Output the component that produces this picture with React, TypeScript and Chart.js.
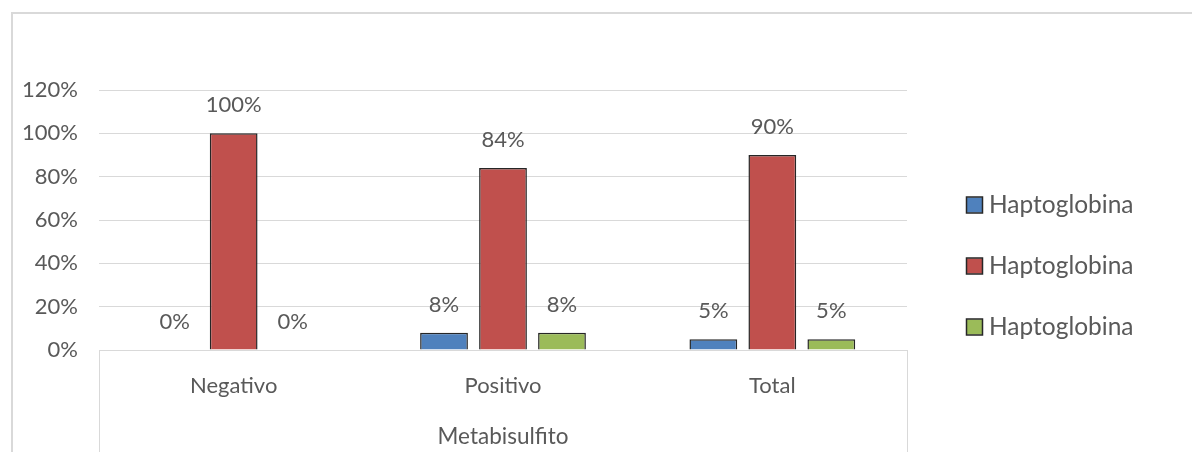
import { useEffect, useRef } from "react";
import { Chart, registerables } from "chart.js";

Chart.register(...registerables);

// Chart data
const categories = ["Negativo", "Positivo", "Total"];
const seriesNames = ["Haptoglobina", "Haptoglobina", "Haptoglobina"];
const blueValues = [0, 8, 5];
const redValues = [100, 84, 90];
const greenValues = [0, 8, 5];
const yTickValues = [0, 20, 40, 60, 80, 100, 120];
const axisTitle = "Metabisulfito";

const seriesColors = ["#4F81BD", "#C0504D", "#9BBB59"];
const FONT = "Lato, 'Open Sans', sans-serif";
const TEXT = "#595959";
const GRID = "#D9D9D9";
const OUTLINE = "#262626";

// Percent labels above each bar
const valueLabels = {
  id: "valueLabels",
  afterDatasetsDraw(chart: any) {
    const ctx = chart.ctx;
    ctx.save();
    ctx.font = `22px ${FONT}`;
    ctx.fillStyle = TEXT;
    ctx.textAlign = "center";
    ctx.textBaseline = "middle";
    chart.data.datasets.forEach((ds: any, di: number) => {
      const meta = chart.getDatasetMeta(di);
      meta.data.forEach((el: any, i: number) => {
        ctx.fillText(`${ds.data[i]}%`, el.x, el.y - 28);
      });
    });
    ctx.restore();
  },
};

// Frame lines of the category axis band below the plot
const axisFrame = {
  id: "axisFrame",
  afterDraw(chart: any) {
    const { ctx, chartArea } = chart;
    ctx.save();
    ctx.strokeStyle = GRID;
    ctx.lineWidth = 1;
    [chartArea.left, chartArea.right].forEach((x: number) => {
      const px = Math.round(x) + 0.5;
      ctx.beginPath();
      ctx.moveTo(px, chartArea.bottom);
      ctx.lineTo(px, chart.height);
      ctx.stroke();
    });
    ctx.restore();
  },
};

// Legend on the right side, one row per dataset
const sideLegend = {
  id: "sideLegend",
  afterDraw(chart: any) {
    const ctx = chart.ctx;
    ctx.save();
    ctx.font = `24.5px ${FONT}`;
    ctx.textBaseline = "middle";
    ctx.textAlign = "left";
    chart.data.datasets.forEach((ds: any, i: number) => {
      const cy = 205 + i * 61;
      ctx.fillStyle = ds.backgroundColor;
      ctx.fillRect(967, cy - 7.5, 15, 15);
      ctx.strokeStyle = OUTLINE;
      ctx.lineWidth = 1.5;
      ctx.strokeRect(966.5, cy - 8, 16, 16);
      ctx.fillStyle = TEXT;
      ctx.fillText(ds.label, 989, cy);
    });
    ctx.restore();
  },
};

export default function App() {
  const canvasRef = useRef<HTMLCanvasElement | null>(null);

  useEffect(() => {
    const canvas = canvasRef.current;
    if (!canvas) return;
    const values = [blueValues, redValues, greenValues];
    const chart = new Chart(canvas, {
      type: "bar",
      data: {
        labels: categories,
        datasets: values.map((data, i) => ({
          label: seriesNames[i],
          data,
          backgroundColor: seriesColors[i],
          borderColor: OUTLINE,
          borderWidth: 1.5,
          categoryPercentage: 0.657,
          barPercentage: 0.81,
        })),
      },
      options: {
        responsive: false,
        animation: false,
        layout: { padding: { left: 0, top: 90, right: 285, bottom: 0 } },
        plugins: {
          legend: { display: false },
          tooltip: { enabled: false },
        },
        scales: {
          x: {
            grid: { display: false, drawTicks: false },
            border: { display: false },
            ticks: {
              color: TEXT,
              font: { family: FONT, size: 22 },
              padding: 23,
              maxRotation: 0,
            },
            title: {
              display: true,
              text: axisTitle,
              color: TEXT,
              font: { family: FONT, size: 22.5 },
              padding: { top: 0, bottom: 2 },
            },
            afterFit: (scale: any) => {
              scale.height = 102;
            },
          },
          y: {
            min: 0,
            max: 120,
            grid: { color: GRID, drawTicks: false, lineWidth: 1 },
            border: { display: false },
            afterBuildTicks: (scale: any) => {
              scale.ticks = yTickValues.map((v) => ({ value: v }));
            },
            ticks: {
              color: TEXT,
              font: { family: FONT, size: 22 },
              padding: 21,
              callback: (v: any) => `${v}%`,
            },
            afterFit: (scale: any) => {
              scale.width = 99;
            },
          },
        },
      },
      plugins: [valueLabels, axisFrame, sideLegend],
    });
    return () => chart.destroy();
  }, []);

  return (
    <div style={{ position: "fixed", left: 0, top: 0, width: 1192, height: 452, background: "#ffffff", overflow: "hidden" }}>
      <div
        style={{
          position: "absolute",
          left: 11,
          top: 12,
          width: 1300,
          height: 600,
          borderTop: `2px solid ${GRID}`,
          borderLeft: `2px solid ${GRID}`,
        }}
      />
      <canvas ref={canvasRef} width={1192} height={452} style={{ position: "absolute", left: 0, top: 0, display: "block" }} />
    </div>
  );
}
